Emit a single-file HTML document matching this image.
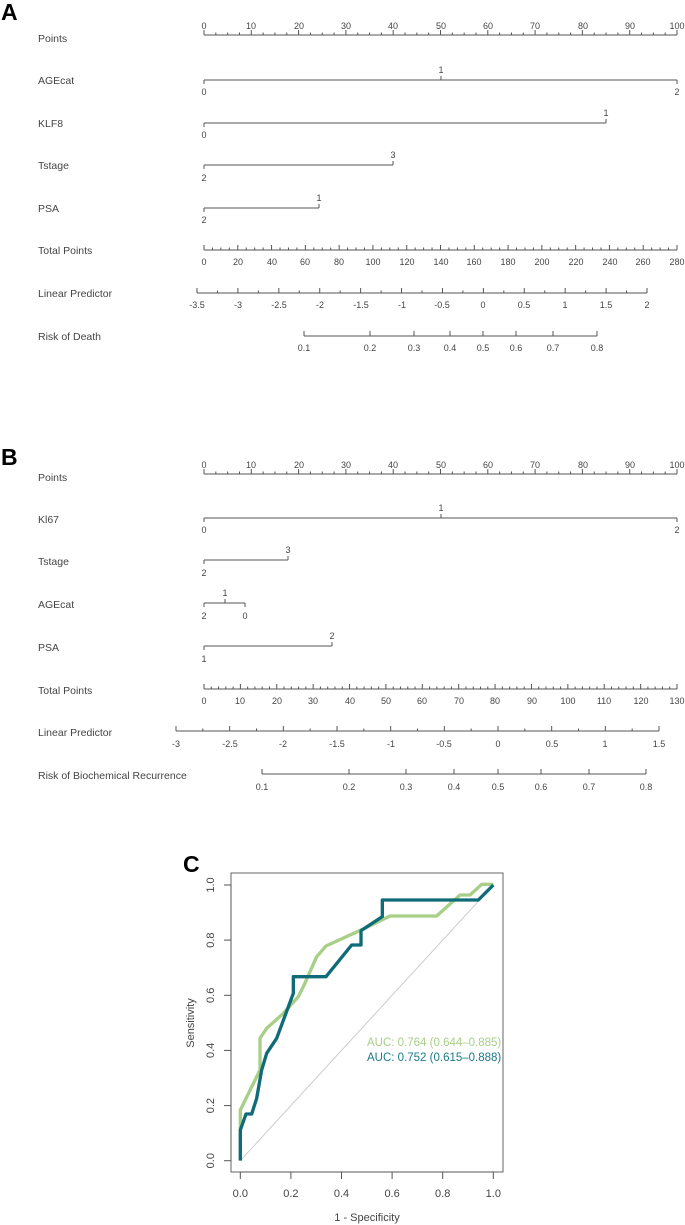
<!DOCTYPE html>
<html><head><meta charset="utf-8"><style>
html,body{margin:0;padding:0;background:#fff}
svg{display:block}
text{font-family:"Liberation Sans",Arial,sans-serif;fill:#444}
.l{font-size:10.5px}
.t{font-size:9px;text-anchor:middle}
.big{font-size:23px;font-weight:bold;fill:#000}
</style></head><body>
<svg id="s" width="685" height="1225" viewBox="0 0 685 1225" xmlns="http://www.w3.org/2000/svg">
<g id="g" stroke="#555" stroke-width="1" fill="none"></g>
<text class="big" x="1" y="20">A</text>
<text class="big" x="1" y="465">B</text>
<text class="big" x="183" y="872">C</text>

<!-- A labels -->
<g class="l">
<text class="l" x="38" y="42">Points</text>
<text class="l" x="38" y="84">AGEcat</text>
<text class="l" x="38" y="127">KLF8</text>
<text class="l" x="38" y="169">Tstage</text>
<text class="l" x="38" y="184" style="display:none"></text>
<text class="l" x="38" y="212">PSA</text>
<text class="l" x="38" y="254">Total Points</text>
<text class="l" x="38" y="297">Linear Predictor</text>
<text class="l" x="38" y="340">Risk of Death</text>
</g>
<!-- A points tick labels -->
<g>
<text class="t" x="204" y="29">0</text><text class="t" x="251" y="29">10</text><text class="t" x="299" y="29">20</text><text class="t" x="346" y="29">30</text><text class="t" x="393" y="29">40</text><text class="t" x="441" y="29">50</text><text class="t" x="488" y="29">60</text><text class="t" x="535" y="29">70</text><text class="t" x="583" y="29">80</text><text class="t" x="630" y="29">90</text><text class="t" x="677" y="29">100</text>
<text class="t" x="441" y="73">1</text><text class="t" x="204" y="95">0</text><text class="t" x="677" y="95">2</text>
<text class="t" x="606" y="116">1</text><text class="t" x="204" y="138">0</text>
<text class="t" x="393" y="158">3</text><text class="t" x="204" y="181">2</text>
<text class="t" x="319" y="201">1</text><text class="t" x="204" y="223">2</text>
<text class="t" x="204" y="265">0</text><text class="t" x="238" y="265">20</text><text class="t" x="272" y="265">40</text><text class="t" x="305" y="265">60</text><text class="t" x="339" y="265">80</text><text class="t" x="373" y="265">100</text><text class="t" x="407" y="265">120</text><text class="t" x="441" y="265">140</text><text class="t" x="474" y="265">160</text><text class="t" x="508" y="265">180</text><text class="t" x="542" y="265">200</text><text class="t" x="576" y="265">220</text><text class="t" x="610" y="265">240</text><text class="t" x="643" y="265">260</text><text class="t" x="677" y="265">280</text>
<text class="t" x="197" y="308">-3.5</text><text class="t" x="238" y="308">-3</text><text class="t" x="279" y="308">-2.5</text><text class="t" x="320" y="308">-2</text><text class="t" x="361" y="308">-1.5</text><text class="t" x="402" y="308">-1</text><text class="t" x="442" y="308">-0.5</text><text class="t" x="483" y="308">0</text><text class="t" x="524" y="308">0.5</text><text class="t" x="565" y="308">1</text><text class="t" x="606" y="308">1.5</text><text class="t" x="647" y="308">2</text>
<text class="t" x="304" y="351">0.1</text><text class="t" x="370" y="351">0.2</text><text class="t" x="414" y="351">0.3</text><text class="t" x="450" y="351">0.4</text><text class="t" x="483" y="351">0.5</text><text class="t" x="516" y="351">0.6</text><text class="t" x="553" y="351">0.7</text><text class="t" x="597" y="351">0.8</text>
</g>

<!-- B labels -->
<text class="l" x="38" y="481">Points</text>
<text class="l" x="38" y="523">Kl67</text>
<text class="l" x="38" y="565">Tstage</text>
<text class="l" x="38" y="608">AGEcat</text>
<text class="l" x="38" y="651">PSA</text>
<text class="l" x="38" y="694">Total Points</text>
<text class="l" x="38" y="736">Linear Predictor</text>
<text class="l" x="38" y="779">Risk of Biochemical Recurrence</text>
<g>
<text class="t" x="204" y="468">0</text><text class="t" x="251" y="468">10</text><text class="t" x="299" y="468">20</text><text class="t" x="346" y="468">30</text><text class="t" x="393" y="468">40</text><text class="t" x="441" y="468">50</text><text class="t" x="488" y="468">60</text><text class="t" x="535" y="468">70</text><text class="t" x="583" y="468">80</text><text class="t" x="630" y="468">90</text><text class="t" x="677" y="468">100</text>
<text class="t" x="441" y="511">1</text><text class="t" x="204" y="533">0</text><text class="t" x="677" y="533">2</text>
<text class="t" x="288" y="553">3</text><text class="t" x="204" y="576">2</text>
<text class="t" x="225" y="596">1</text><text class="t" x="204" y="619">2</text><text class="t" x="245" y="619">0</text>
<text class="t" x="332" y="639">2</text><text class="t" x="204" y="662">1</text>
<text class="t" x="204" y="704">0</text><text class="t" x="240" y="704">10</text><text class="t" x="277" y="704">20</text><text class="t" x="313" y="704">30</text><text class="t" x="350" y="704">40</text><text class="t" x="386" y="704">50</text><text class="t" x="422" y="704">60</text><text class="t" x="459" y="704">70</text><text class="t" x="495" y="704">80</text><text class="t" x="532" y="704">90</text><text class="t" x="568" y="704">100</text><text class="t" x="604" y="704">110</text><text class="t" x="641" y="704">120</text><text class="t" x="677" y="704">130</text>
<text class="t" x="176" y="747">-3</text><text class="t" x="230" y="747">-2.5</text><text class="t" x="283" y="747">-2</text><text class="t" x="337" y="747">-1.5</text><text class="t" x="391" y="747">-1</text><text class="t" x="444" y="747">-0.5</text><text class="t" x="498" y="747">0</text><text class="t" x="552" y="747">0.5</text><text class="t" x="605" y="747">1</text><text class="t" x="659" y="747">1.5</text>
<text class="t" x="262" y="790">0.1</text><text class="t" x="349" y="790">0.2</text><text class="t" x="406" y="790">0.3</text><text class="t" x="454" y="790">0.4</text><text class="t" x="498" y="790">0.5</text><text class="t" x="541" y="790">0.6</text><text class="t" x="589" y="790">0.7</text><text class="t" x="646" y="790">0.8</text>
</g>

<!-- C ROC -->
<rect x="231" y="873" width="272" height="299" fill="none" stroke="#666" stroke-width="1"/>
<line x1="240.3" y1="1160.7" x2="493.3" y2="885" stroke="#ccc" stroke-width="1"/>
<g transform="translate(170,840) scale(0.3333333)" fill="none" stroke-linejoin="round">
<polyline stroke="#a8cf88" stroke-width="10" points="211,960 211,810 270,690 270,595 290,565 340,520 385,470 400,440 440,350 468,318 540,285 578,268 660,228 800,228 870,165 900,165 935,133 970,133"/>
<polyline stroke="#0f6b78" stroke-width="10" points="211,962 211,870 228,822 245,822 260,775 275,690 290,640 320,595 370,460 370,410 468,410 545,315 573,315 573,272 637,230 637,180 925,180 970,135"/>
</g>
<g stroke="#555" stroke-width="1">
<line x1="240.3" y1="1172" x2="493.3" y2="1172"/>
<line x1="240.3" y1="1172" x2="240.3" y2="1179"/><line x1="290.9" y1="1172" x2="290.9" y2="1179"/><line x1="341.5" y1="1172" x2="341.5" y2="1179"/><line x1="392.1" y1="1172" x2="392.1" y2="1179"/><line x1="442.7" y1="1172" x2="442.7" y2="1179"/><line x1="493.3" y1="1172" x2="493.3" y2="1179"/>
<line x1="231" y1="885" x2="231" y2="1160.7"/>
<line x1="224" y1="1160.7" x2="231" y2="1160.7"/><line x1="224" y1="1105.6" x2="231" y2="1105.6"/><line x1="224" y1="1050.4" x2="231" y2="1050.4"/><line x1="224" y1="995.3" x2="231" y2="995.3"/><line x1="224" y1="940.1" x2="231" y2="940.1"/><line x1="224" y1="885" x2="224" y2="885"/><line x1="224" y1="885" x2="231" y2="885"/>
</g>
<g style="font-size:11px">
<text x="240.3" y="1197" text-anchor="middle" style="font-size:11px">0.0</text>
<text x="290.9" y="1197" text-anchor="middle" style="font-size:11px">0.2</text>
<text x="341.5" y="1197" text-anchor="middle" style="font-size:11px">0.4</text>
<text x="392.1" y="1197" text-anchor="middle" style="font-size:11px">0.6</text>
<text x="442.7" y="1197" text-anchor="middle" style="font-size:11px">0.8</text>
<text x="493.3" y="1197" text-anchor="middle" style="font-size:11px">1.0</text>
<text x="367" y="1221" text-anchor="middle" style="font-size:11px">1 - Specificity</text>
<text transform="translate(214,1160.7) rotate(-90)" text-anchor="middle" style="font-size:11px">0.0</text>
<text transform="translate(214,1105.6) rotate(-90)" text-anchor="middle" style="font-size:11px">0.2</text>
<text transform="translate(214,1050.4) rotate(-90)" text-anchor="middle" style="font-size:11px">0.4</text>
<text transform="translate(214,995.3) rotate(-90)" text-anchor="middle" style="font-size:11px">0.6</text>
<text transform="translate(214,940.1) rotate(-90)" text-anchor="middle" style="font-size:11px">0.8</text>
<text transform="translate(214,885) rotate(-90)" text-anchor="middle" style="font-size:11px">1.0</text>
<text transform="translate(194,1023) rotate(-90)" text-anchor="middle" style="font-size:11px">Sensitivity</text>
<text x="367" y="1046" style="font-size:11.5px;fill:#a8cf88">AUC: 0.764 (0.644–0.885)</text>
<text x="367" y="1061" style="font-size:11.5px;fill:#1a7a88">AUC: 0.752 (0.615–0.888)</text>
</g>
</svg>
<script>
(function(){
var g=document.getElementById('g');
function L(x1,y1,x2,y2){var l=document.createElementNS('http://www.w3.org/2000/svg','line');l.setAttribute('x1',x1);l.setAttribute('y1',y1);l.setAttribute('x2',x2);l.setAttribute('y2',y2);g.appendChild(l);}
// points axis (ticks up)
function pts(y){L(204,y,677,y);for(var i=0;i<=40;i++){var x=204+i*473/40;L(x,y,x,y-(i%4==0?5:2.5));}}
pts(35);pts(474);
// total points (ticks up too, labels below)
function tot(y,max,step,maj){L(204,y,677,y);var n=max/step;for(var i=0;i<=n;i++){var x=204+i*473/n;L(x,y,x,y-((i*step)%maj==0?5:2.5));}}
tot(250,280,5,20);tot(689,130,2,10);
function lp(y,a,b,x0,x1){L(x0,y,x1,y);var n=(b-a)/0.25;for(var i=0;i<=n;i++){var x=x0+i*(x1-x0)/n;L(x,y,x,y-(i%2==0?5:2.5));}}
lp(293,-3.5,2,197,647);lp(731,-3,1.5,176,659);
function risk(y,xs){L(xs[0],y,xs[xs.length-1],y);xs.forEach(function(x){L(x,y,x,y-5);});}
risk(336,[304,370,414,450,483,516,553,597]);
risk(774,[262,349,406,454,498,541,589,646]);
// variable lines: [x,up]
function v(y,arr){var xs=arr.map(function(a){return a[0]});L(Math.min.apply(0,xs),y,Math.max.apply(0,xs),y);arr.forEach(function(a){L(a[0],y,a[0],a[1]?y-4:y+4);});}
v(80,[[204,0],[441,1],[677,0]]);v(123,[[204,0],[606,1]]);v(165,[[204,0],[393,1]]);v(208,[[204,0],[319,1]]);
v(518,[[204,0],[441,1],[677,0]]);v(560,[[204,0],[288,1]]);v(603,[[204,0],[225,1],[245,0]]);v(646,[[204,0],[332,1]]);
})();
</script>
</body></html>
